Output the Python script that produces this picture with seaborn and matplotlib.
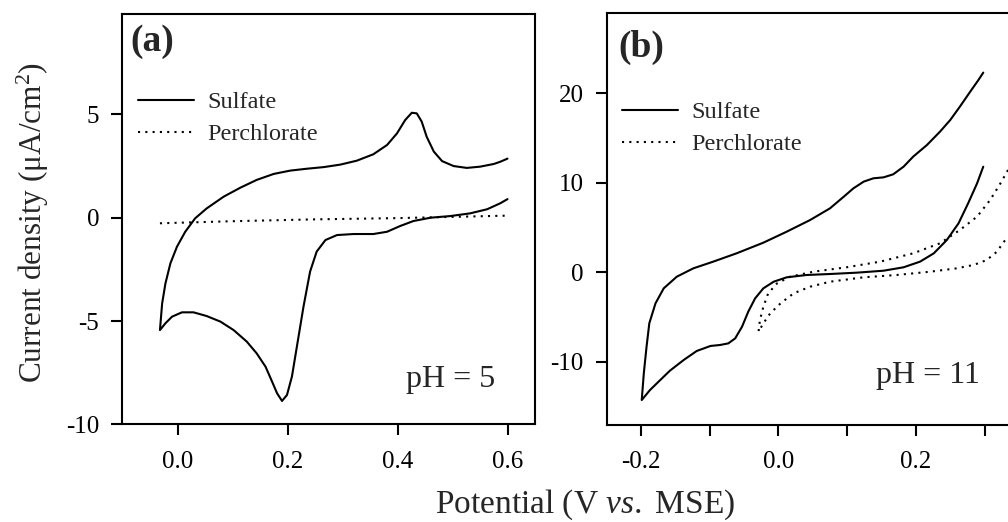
import numpy as np
import pandas as pd
import matplotlib
matplotlib.use("Agg")
import matplotlib.pyplot as plt
from matplotlib.lines import Line2D
import seaborn as sns

sns.set_theme(style="ticks")
plt.rcParams["font.family"] = ["Liberation Serif", "DejaVu Serif"]
plt.rcParams["mathtext.fontset"] = "custom"
plt.rcParams["mathtext.rm"] = "Liberation Serif"
plt.rcParams["mathtext.it"] = "Liberation Serif:italic"
plt.rcParams["axes.unicode_minus"] = False

# ---------- data ----------
# (a) pH 5, sulfate: upper (anodic) branch from the 0.6 V end back to the vertex,
# then the lower (cathodic) branch out to 0.6 V again
a_sulf_x = [0.600, 0.587, 0.575, 0.550, 0.526, 0.502, 0.481, 0.466, 0.453, 0.444,
            0.435, 0.426, 0.414, 0.399, 0.381, 0.356, 0.326, 0.296, 0.266, 0.235,
            0.205, 0.175, 0.144, 0.114, 0.084, 0.053, 0.032, 0.014, -0.001, -0.013,
            -0.022, -0.028, -0.032,
            -0.022, -0.010, 0.008, 0.029, 0.053, 0.078, 0.102, 0.126, 0.144, 0.160,
            0.172, 0.181, 0.190, 0.199, 0.208, 0.217, 0.229, 0.241, 0.253, 0.269,
            0.290, 0.320, 0.356, 0.381, 0.405, 0.429, 0.460, 0.496, 0.532, 0.563,
            0.587, 0.600]
a_sulf_y = [2.86, 2.71, 2.60, 2.47, 2.41, 2.50, 2.74, 3.20, 3.92, 4.65,
            5.05, 5.08, 4.73, 4.08, 3.52, 3.07, 2.76, 2.57, 2.45, 2.37,
            2.28, 2.12, 1.83, 1.45, 1.02, 0.45, -0.03, -0.68, -1.40, -2.21,
            -3.18, -4.15, -5.44,
            -5.11, -4.79, -4.58, -4.58, -4.76, -5.03, -5.44, -6.00, -6.57, -7.21,
            -7.94, -8.50, -8.87, -8.58, -7.69, -6.24, -4.31, -2.61, -1.64, -1.08,
            -0.84, -0.79, -0.79, -0.68, -0.40, -0.16, 0.00, 0.08, 0.21, 0.41,
            0.70, 0.90]
a_perc_x = [-0.032, 0.100, 0.250, 0.400, 0.500, 0.600]
a_perc_y = [-0.27, -0.17, -0.08, -0.02, 0.04, 0.10]

# (b) pH 11, sulfate: upper branch from 0.3 V back to the vertex, then lower branch
b_sulf_x = [0.298, 0.291, 0.279, 0.264, 0.250, 0.235, 0.216, 0.196, 0.182, 0.167,
            0.153, 0.138, 0.124, 0.109, 0.095, 0.075, 0.046, 0.012, -0.022, -0.061,
            -0.095, -0.124, -0.148, -0.167, -0.179, -0.188, -0.192, -0.196, -0.199,
            -0.187, -0.172, -0.158, -0.138, -0.119, -0.099, -0.085, -0.073, -0.063,
            -0.053, -0.044, -0.034, -0.022, -0.007, 0.012, 0.041, 0.075, 0.114,
            0.153, 0.182, 0.206, 0.226, 0.245, 0.262, 0.276, 0.289, 0.298]
b_sulf_y = [22.31, 21.49, 20.18, 18.51, 17.02, 15.71, 14.22, 12.92, 11.80, 10.95,
            10.61, 10.50, 10.13, 9.38, 8.45, 7.15, 5.84, 4.54, 3.31, 2.12,
            1.19, 0.44, -0.49, -1.79, -3.47, -5.70, -8.31, -11.29, -14.27,
            -13.15, -12.03, -10.99, -9.80, -8.79, -8.23, -8.12, -7.94, -7.38,
            -6.07, -4.40, -2.91, -1.79, -1.05, -0.56, -0.30, -0.19, -0.04,
            0.18, 0.56, 1.19, 2.12, 3.61, 5.47, 7.71, 9.94, 11.80]
# perchlorate: upper branch back to the vertex, then lower branch
b_perc_x = [0.334, 0.323, 0.308, 0.289, 0.264, 0.235, 0.196, 0.148, 0.099, 0.051,
            0.017, -0.002, -0.015, -0.022, -0.027, -0.029,
            -0.022, -0.012, 0.003, 0.022, 0.046, 0.075, 0.124, 0.172, 0.221,
            0.259, 0.284, 0.303, 0.318, 0.327, 0.334]
b_perc_y = [11.43, 9.94, 8.08, 6.22, 4.73, 3.24, 2.12, 1.19, 0.56, 0.07,
            -0.49, -1.23, -2.35, -3.84, -5.33, -6.63,
            -5.70, -4.58, -3.47, -2.35, -1.61, -1.05, -0.56, -0.30, 0.07,
            0.44, 0.82, 1.37, 2.31, 3.31, 3.98]

a_xticks = [0.0, 0.2, 0.4, 0.6]
a_yticks = [-10, -5, 0, 5]
b_xticks = [-0.2, 0.0, 0.2]
b_xminor = [-0.1, 0.1, 0.3]
b_yticks = [-10, 0, 10, 20]

LW = 1.5
DOT = (0, (1, 2.5))

fig = plt.figure(figsize=(10.08, 5.22), dpi=100)
ax_a = fig.add_axes([122 / 1008, 97.7 / 522, 413 / 1008, 410.3 / 522])
ax_b = fig.add_axes([606.7 / 1008, 97 / 522, 412.3 / 1008, 412 / 522])


def draw(ax, sx, sy, px, py):
    sns.lineplot(x=sx, y=sy, sort=False, estimator=None, color="black",
                 linewidth=LW, ax=ax)
    sns.lineplot(x=px, y=py, sort=False, estimator=None, color="black",
                 linewidth=LW, linestyle=DOT, ax=ax)


draw(ax_a, a_sulf_x, a_sulf_y, a_perc_x, a_perc_y)
draw(ax_b, b_sulf_x, b_sulf_y, b_perc_x, b_perc_y)

ax_a.set_xlim(-0.101, 0.650)
ax_a.set_ylim(-10, 9.86)
ax_a.set_xticks(a_xticks)
ax_a.set_xticklabels([f"{v:.1f}" for v in a_xticks])
ax_a.set_yticks(a_yticks)
ax_a.set_yticklabels([str(v) for v in a_yticks])

ax_b.set_xlim(-0.25, 0.35)
ax_b.set_ylim(-17.06, 28.97)
ax_b.set_xticks(b_xticks)
ax_b.set_xticklabels([f"{v:.1f}" for v in b_xticks])
ax_b.set_xticks(b_xminor, minor=True)
ax_b.set_yticks(b_yticks)
ax_b.set_yticklabels([str(v) for v in b_yticks])

handles = [Line2D([], [], color="black", lw=LW),
           Line2D([], [], color="black", lw=LW, linestyle=DOT)]
panels = [(ax_a, "(a)", (0.021, 0.976), "pH = 5", (0.903, 0.0916), (0.038, 0.812)),
          (ax_b, "(b)", (0.028, 0.959), "pH = 11", (0.905, 0.101), (0.037, 0.786))]
for ax, tag, tag_xy, ph, ph_xy, leg_xy in panels:
    for sp in ax.spines.values():
        sp.set_linewidth(LW)
        sp.set_color("black")
    ax.tick_params(which="both", direction="out", length=8, width=LW,
                   colors="black", labelsize=18, top=False, right=False)
    ax.tick_params(axis="x", which="both", pad=11)
    ax.tick_params(axis="y", pad=8.5)
    ax.set_xlabel("")
    ax.set_ylabel("")
    ax.text(*tag_xy, tag, transform=ax.transAxes, fontsize=27,
            fontweight="bold", ha="left", va="top")
    ax.text(*ph_xy, ph, transform=ax.transAxes, fontsize=23,
            ha="right", va="baseline")
    ax.legend(handles, ["Sulfate", "Perchlorate"], loc="upper left",
              bbox_to_anchor=leg_xy, frameon=False, fontsize=17.5,
              handlelength=2.3, handletextpad=0.55, borderpad=0,
              borderaxespad=0, labelspacing=0.42)

fig.text(33 / 1008, 0.574, "Current density (μA/cm$^{2}$)", rotation=90,
         ha="center", va="center", fontsize=22.5)
fig.text(585 / 1008, 9 / 522, "Potential (V $\\mathit{vs.}$ MSE)",
         ha="center", va="baseline", fontsize=24)

fig.savefig("out.png", dpi=100)
